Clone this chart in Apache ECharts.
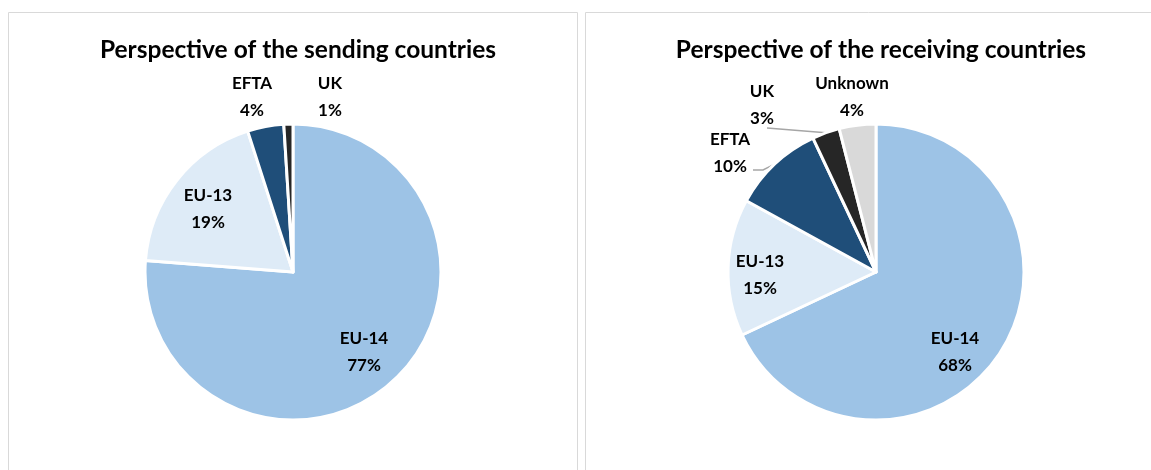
<!DOCTYPE html>
<html>
<head>
<meta charset="utf-8">
<script src="https://cdn.jsdelivr.net/npm/echarts@6/dist/echarts.min.js"></script>
<style>
    html, body { margin: 0; padding: 0; background: #fff; }
    #chart { width: 1151px; height: 470px; }
</style>
</head>
<body>
<div id="chart"></div>
<script>
// data (percent)
var sendingNames = ['EU-14', 'EU-13', 'EFTA', 'UK'];
var sendingValues = [77, 19, 4, 1];
var receivingNames = ['EU-14', 'EU-13', 'EFTA', 'UK', 'Unknown'];
var receivingValues = [68, 15, 10, 3, 4];

var colors = {'EU-14': '#9dc3e6', 'EU-13': '#deebf7', 'EFTA': '#1f4e79', 'UK': '#262626', 'Unknown': '#d9d9d9'};
var insideNames = ['EU-14', 'EU-13'];
// only these get a leader line (right chart)
var lineNames = ['EFTA', 'UK'];

// where the labels sit (label centres)
var sendingLabelPos = {'EU-14': [364, 352], 'EU-13': [208, 209], 'EFTA': [252, 97], 'UK': [330, 97]};
var receivingLabelPos = {'EU-14': [955, 352], 'EU-13': [760, 275], 'EFTA': [730, 153], 'UK': [762, 105], 'Unknown': [852, 97]};

var font = 'Lato, "Open Sans", sans-serif';

function buildData(names, values, withLines) {
    var out = [];
    for (var i = 0; i < names.length; i++) {
        var inside = insideNames.indexOf(names[i]) >= 0;
        out.push({
            name: names[i],
            value: values[i],
            itemStyle: {color: colors[names[i]]},
            label: {position: inside ? 'inside' : 'outside'},
            labelLine: {show: withLines && lineNames.indexOf(names[i]) >= 0}
        });
    }
    return out;
}

function makeLayout(posTable) {
    return function (params) {
        var name = params.text.split('\n')[0];
        var p = posTable[name];
        if (!p) return {};
        var res = {x: p[0], y: p[1], align: 'center', verticalAlign: 'middle'};
        var pts = params.labelLinePoints;
        if (pts && pts.length) {
            // keep the anchor on the slice edge, end the line under / beside the text like Excel
            if (name === 'UK') {
                res.labelLinePoints = [pts[0], [p[0] + 5, p[1] + 23]];
            } else if (name === 'EFTA') {
                res.labelLinePoints = [pts[0], [p[0] + 33, p[1] + 17], [p[0] + 23, p[1] + 17]];
            }
        }
        return res;
    };
}

function pieSeries(names, values, center, posTable, withLines) {
    return {
        type: 'pie',
        center: center,
        radius: 148,
        startAngle: 90,
        clockwise: true,
        animation: false,
        itemStyle: {borderColor: '#ffffff', borderWidth: 3},
        label: {
            formatter: '{b}\n{c}%',
            fontFamily: font,
            fontWeight: 'bold',
            fontSize: 17,
            lineHeight: 27,
            align: 'center',
            color: '#000'
        },
        labelLine: {
            length: 10,
            length2: 10,
            lineStyle: {color: '#a6a6a6', width: 1.5}
        },
        labelLayout: makeLayout(posTable),
        data: buildData(names, values, withLines)
    };
}

var myChart = echarts.init(document.getElementById('chart'));
var option = {};
option['title'] = [
    {text: 'Perspective of the sending countries', left: 293, top: 33, textAlign: 'center',
     textStyle: {fontFamily: font, fontWeight: 'bold', fontSize: 24.5, color: '#000'}},
    {text: 'Perspective of the receiving countries', left: 876, top: 33, textAlign: 'center',
     textStyle: {fontFamily: font, fontWeight: 'bold', fontSize: 24.5, color: '#000'}}
];
option['graphic'] = [
    {type: 'rect', shape: {x: 8.5, y: 12.5, width: 569, height: 470}, style: {fill: null, stroke: '#d9d9d9', lineWidth: 1}, silent: true},
    {type: 'rect', shape: {x: 585.5, y: 12.5, width: 600, height: 470}, style: {fill: null, stroke: '#d9d9d9', lineWidth: 1}, silent: true}
];
option['series'] = [
    pieSeries(sendingNames, sendingValues, [293, 272], sendingLabelPos, false),
    pieSeries(receivingNames, receivingValues, [876, 272], receivingLabelPos, true)
];
myChart.setOption(option);
</script>
</body>
</html>
